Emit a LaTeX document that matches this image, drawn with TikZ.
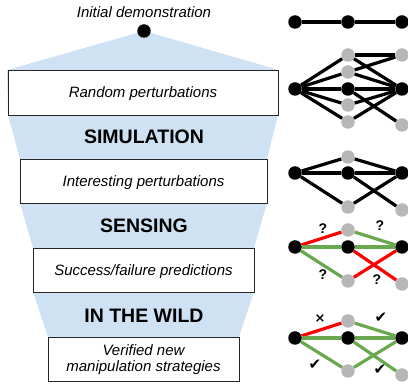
\documentclass[tikz,border=0pt]{standalone}
\usepackage{fontspec}
\setmainfont{Liberation Sans}
\newfontfamily\symfont{DejaVu Sans}
\definecolor{funnelblue}{HTML}{CFE2F3}
\definecolor{okgreen}{HTML}{6AA84F}
\definecolor{nodegray}{HTML}{B7B7B7}
\begin{document}
\begin{tikzpicture}[x=1pt,y=-1pt,
  bn/.style={circle,fill=black,inner sep=0pt,minimum size=13.5pt},
  gn/.style={circle,fill=nodegray,inner sep=0pt,minimum size=13.5pt},
  ed/.style={line width=3.2pt,draw=black},
  bad/.style={line width=3.2pt,draw=red},
  good/.style={line width=3.2pt,draw=okgreen},
  stagebox/.style={draw=black!85,fill=white,line width=0.8pt,inner sep=0pt},
  itext/.style={font=\fontsize{15}{17}\selectfont\itshape,anchor=base,inner sep=0pt},
  btext/.style={font=\fontsize{19.5}{22}\selectfont\bfseries,inner sep=0pt},
  qmark/.style={font=\fontsize{14}{16}\selectfont\bfseries,inner sep=0pt},
  chk/.style={font=\fontsize{15}{17}\selectfont\symfont,inner sep=0pt}
]
\useasboundingbox (0,0) rectangle (408,387);

% funnel
\fill[funnelblue] (144,31) -- (7,70) -- (8,115) -- (20,159) -- (20,203) -- (33,248)
  -- (33,292) -- (48,337) -- (239,337) -- (254,292) -- (254,248) -- (267,203)
  -- (267,159) -- (278,115) -- (279,70) -- cycle;

% boxes
\node[stagebox,minimum width=270pt,minimum height=45pt] (b1) at (143,92.5) {};
\node[stagebox,minimum width=247pt,minimum height=44pt] (b2) at (143.5,181) {};
\node[stagebox,minimum width=221pt,minimum height=44pt] (b3) at (143.5,270) {};
\node[stagebox,minimum width=191pt,minimum height=44pt] (b4) at (143.5,359) {};

\node[itext] (t0) at (144,18) {Initial demonstration};
\node[bn] (d0) at (144,31) {};
\node[itext] (t1) at (143,98) {Random perturbations};
\node[itext] (t2) at (143.5,186.5) {Interesting perturbations};
\node[itext] (t3) at (143.5,275.5) {Success/failure predictions};
\node[itext] (t4a) at (143.5,356) {Verified new};
\node[itext] (t4b) at (143.5,372) {manipulation strategies};

\node[btext] (s1) at (144,137) {SIMULATION};
\node[btext] (s2) at (144,226) {SENSING};
\node[btext] (s3) at (144,316) {IN THE WILD};

% graph 0
\node[bn] (a1) at (295,22) {};
\node[bn] (a2) at (348,22) {};
\node[bn] (a3) at (402,22) {};
\draw[ed] (a1) -- (a2) -- (a3);

% graph 1
\node[bn] (g1l) at (295,89) {};
\node[gn] (g1m1) at (348,55) {};
\node[gn] (g1m2) at (348,72) {};
\node[bn] (g1m3) at (348,89) {};
\node[gn] (g1m4) at (348,105) {};
\node[gn] (g1m5) at (348,122) {};
\node[gn] (g1r1) at (402,55) {};
\node[bn] (g1r2) at (402,89) {};
\node[gn] (g1r3) at (402,125) {};
\draw[ed] (g1l) -- (g1m1);
\draw[ed] (g1l) -- (g1m2);
\draw[ed] (g1l) -- (g1m3);
\draw[ed] (g1l) -- (g1m4);
\draw[ed] (g1l) -- (g1m5);
\draw[ed] (g1m1) -- (g1r1);
\draw[ed] (g1m1) -- (g1r2);
\draw[ed] (g1m2) -- (g1r1);
\draw[ed] (g1m2) -- (g1r2);
\draw[ed] (g1m3) -- (g1r2);
\draw[ed] (g1m3) -- (g1r3);
\draw[ed] (g1m4) -- (g1r2);
\draw[ed] (g1m5) -- (g1r2);

% graph 2
\node[bn] (g2l) at (295,173) {};
\node[gn] (g2m1) at (348,157) {};
\node[bn] (g2m2) at (348,173) {};
\node[gn] (g2m3) at (348,207) {};
\node[bn] (g2r1) at (402,173) {};
\node[gn] (g2r2) at (402,210) {};
\draw[ed] (g2l) -- (g2m1) -- (g2r1);
\draw[ed] (g2l) -- (g2m2) -- (g2r1);
\draw[ed] (g2l) -- (g2m3) -- (g2r1);
\draw[ed] (g2m2) -- (g2r2);

% graph 3
\node[bn] (g3l) at (295,247) {};
\node[gn] (g3m1) at (348,230) {};
\node[bn] (g3m2) at (348,247) {};
\node[gn] (g3m3) at (348,281) {};
\node[bn] (g3r1) at (402,247) {};
\node[gn] (g3r2) at (402,284) {};
\draw[bad] (g3l) -- (g3m1);
\draw[good] (g3m1) -- (g3r1);
\draw[good] (g3l) -- (g3m2) -- (g3r1);
\draw[good] (g3l) -- (g3m3);
\draw[bad] (g3m3) -- (g3r1);
\draw[bad] (g3m2) -- (g3r2);
\node[qmark] (q1) at (323,229) {?};
\node[qmark] (q2) at (380,226) {?};
\node[qmark] (q3) at (323,275) {?};
\node[qmark] (q4) at (377,280) {?};

% graph 4
\node[bn] (g4l) at (295,338) {};
\node[gn] (g4m1) at (348,321) {};
\node[bn] (g4m2) at (348,338) {};
\node[gn] (g4m3) at (348,371) {};
\node[bn] (g4r1) at (402,338) {};
\node[gn] (g4r2) at (402,375) {};
\draw[bad] (g4l) -- (g4m1);
\draw[good] (g4m1) -- (g4r1);
\draw[good] (g4l) -- (g4m2) -- (g4r1);
\draw[good] (g4l) -- (g4m3) -- (g4r1);
\draw[good] (g4m2) -- (g4r2);
\node[chk,font=\fontsize{13}{15}\selectfont\symfont\bfseries] (c0) at (320,319) {×};
\node[chk] (c1) at (381,318) {✔};
\node[chk] (c2) at (315,365) {✔};
\node[chk] (c3) at (380,370) {✔};
\end{tikzpicture}
\end{document}
